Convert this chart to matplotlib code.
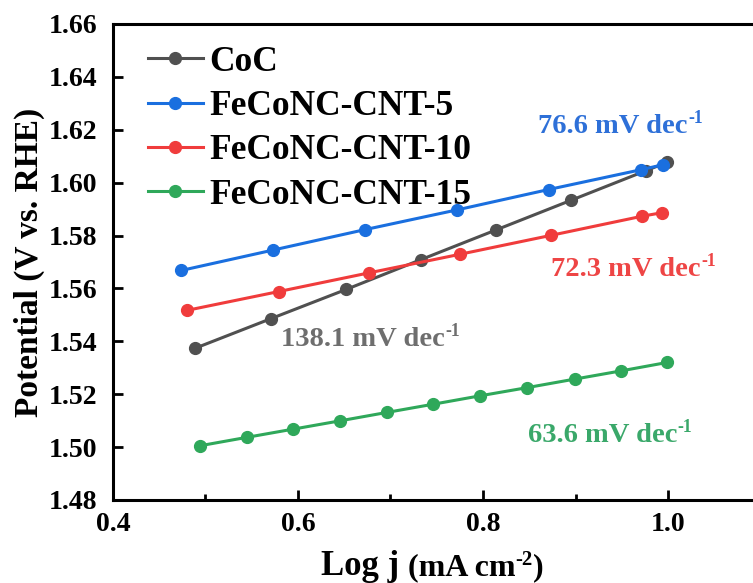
import matplotlib
matplotlib.use("Agg")
import matplotlib.pyplot as plt
from matplotlib.ticker import MultipleLocator

plt.rcParams['font.family'] = ['Liberation Serif', 'DejaVu Serif']
plt.rcParams['font.weight'] = 'bold'

# Data
coc_x = [0.489, 0.571, 0.652, 0.733, 0.814, 0.895, 0.976, 0.999]
coc_y = [1.5374, 1.5486, 1.5596, 1.5709, 1.5821, 1.5933, 1.6045, 1.6077]
cnt5_x = [0.474, 0.573, 0.672, 0.772, 0.871, 0.971, 0.995]
cnt5_y = [1.5668, 1.5745, 1.5822, 1.5897, 1.5974, 1.6049, 1.6068]
cnt10_x = [0.480, 0.579, 0.677, 0.775, 0.874, 0.972, 0.993]
cnt10_y = [1.5517, 1.5588, 1.5659, 1.5729, 1.5801, 1.5873, 1.5886]
cnt15_x = [0.494, 0.545, 0.595, 0.645, 0.696, 0.746, 0.797, 0.848, 0.899, 0.949, 0.999]
cnt15_y = [1.5005, 1.5037, 1.5068, 1.5099, 1.5131, 1.5162, 1.5194, 1.5225, 1.5257, 1.5288, 1.5320]

labels = ['CoC', 'FeCoNC-CNT-5', 'FeCoNC-CNT-10', 'FeCoNC-CNT-15']
colors = ['#505050', '#1a6fdf', '#f03c3c', '#2fa85a']
text_colors = ['#6e6e6e', '#2e70d8', '#ee4545', '#3aa86a']
slopes = ['138.1', '76.6', '72.3', '63.6']
slope_pos = [(0.670, 1.5408), (0.940, 1.6211), (0.954, 1.5672), (0.929, 1.5042)]
xticks = [0.4, 0.6, 0.8, 1.0]
yticks = [1.48, 1.50, 1.52, 1.54, 1.56, 1.58, 1.60, 1.62, 1.64, 1.66]

fig = plt.figure(figsize=(7.53, 5.83), dpi=100)
ax = fig.add_axes([0.150, 0.1424, 0.860, 0.8165])

series = [(coc_x, coc_y), (cnt5_x, cnt5_y), (cnt10_x, cnt10_y), (cnt15_x, cnt15_y)]
for (x, y), lab, c in zip(series, labels, colors):
    ax.plot(x, y, '-o', color=c, lw=2.2, ms=8.5, label=lab)

fs_ann = 20.5
for s, (px, py), c in zip(slopes, slope_pos, text_colors):
    t = ax.text(px, py, s + ' mV dec', color=c, fontsize=fs_ann,
                fontweight='bold', ha='center', va='center')
    ax.annotate('-1', xy=(1.0, 1.0), xycoords=t, xytext=(0.5, 3),
                textcoords='offset points', color=c, fontsize=fs_ann * 0.62,
                fontweight='bold', ha='left', va='top')

ax.set_xlim(0.4, 1.1)
ax.set_ylim(1.48, 1.66)
ax.xaxis.set_minor_locator(MultipleLocator(0.1))
ax.set_xticks(xticks)
ax.set_xticklabels([f'{v:.1f}' for v in xticks])
ax.set_yticks(yticks)
ax.set_yticklabels([f'{v:.2f}' for v in yticks])
ax.tick_params(which='major', direction='in', length=7, width=2, labelsize=20)
ax.tick_params(axis='x', which='major', pad=9)
ax.tick_params(axis='y', which='major', pad=11)
ax.tick_params(which='minor', direction='in', length=4, width=2)
ax.tick_params(axis='x', which='both', top=False)
ax.tick_params(axis='y', which='both', right=False)
for sp in ax.spines.values():
    sp.set_linewidth(2.2)

ax.set_ylabel('Potential (V vs. RHE)', fontsize=24, fontweight='bold', labelpad=3)

# x label built as pieces to get a hyphen superscript
xl1 = fig.text(0.0, 0.0, 'Log j ', fontsize=25, fontweight='bold', ha='left', va='baseline')
xl2 = fig.text(0.0, 0.0, '(mA cm', fontsize=23, fontweight='bold', ha='left', va='baseline')
xl3 = fig.text(0.0, 0.0, '-2', fontsize=15, fontweight='bold', ha='left', va='baseline')
xl4 = fig.text(0.0, 0.0, ')', fontsize=23, fontweight='bold', ha='left', va='baseline')
fig.canvas.draw()
r = fig.canvas.get_renderer()
w1 = xl1.get_window_extent(r).width
w2 = xl2.get_window_extent(r).width
w3 = xl3.get_window_extent(r).width
w4 = xl4.get_window_extent(r).width
total = w1 + w2 + w3 + w4
W, H = fig.bbox.width, fig.bbox.height
cx = 432.0
x0 = cx - total / 2
base = H - 575.0
xl1.set_position((x0 / W, base / H))
xl2.set_position(((x0 + w1) / W, base / H))
xl3.set_position(((x0 + w1 + w2) / W, (base + 10) / H))
xl4.set_position(((x0 + w1 + w2 + w3) / W, base / H))

leg = ax.legend(loc='upper left', frameon=False, prop={'weight': 'bold', 'size': 25.5},
                handlelength=1.55, handletextpad=0.19, labelspacing=0.32,
                borderaxespad=0.3, bbox_to_anchor=(0.0154, 1.0063))

fig.savefig('out.png', dpi=100)
